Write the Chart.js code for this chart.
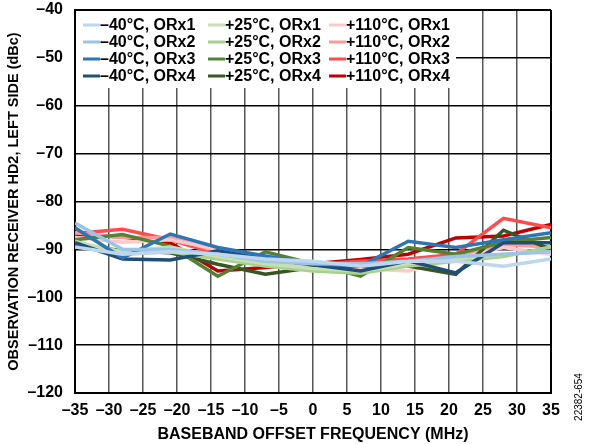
<!DOCTYPE html>
<html lang="en">
  <head>
    <meta charset="UTF-8" />
    <title>Observation Receiver HD2, Left Side</title>
    <script src="https://cdn.jsdelivr.net/npm/chart.js"></script>
    <style>
      body {
        margin: 0;
        background: #fff;
      }
      #chart-container {
        width: 590px;
        height: 444px;
      }
    </style>
  </head>
  <body>
    <div id="chart-container">
      <canvas id="my-chart" width="590" height="444"></canvas>
    </div>

    <script>
      // Offset frequencies (MHz)
      const freqs = [-35, -28, -21, -14, -7, 0, 7, 14, 21, 28, 35];

      // HD2 values (dBc)
      const m40orx1 = [-89.5, -91, -90.5, -91, -92, -92.5, -93.5, -92.5, -92.5, -93.5, -92];
      const m40orx2 = [-84.5, -90, -90, -91, -92.5, -93, -93, -92.5, -91.5, -91, -90.5];
      const m40orx3 = [-85.5, -91.8, -86.8, -89.6, -91.4, -93, -93.5, -88.3, -89.6, -88, -86.5];
      const m40orx4 = [-88.6, -92, -92.2, -90.3, -92, -93.2, -94.5, -92.4, -94.9, -88.6, -88.6];
      const p25orx1 = [-88.5, -90.5, -89.5, -91.5, -93, -94, -94.5, -93, -92, -91, -90.5];
      const p25orx2 = [-88.3, -91, -90.5, -92, -93.5, -94.5, -95, -93.5, -92.5, -91.5, -89.5];
      const p25orx3 = [-88, -86.9, -89.3, -95.6, -90.5, -93, -95.6, -89.6, -91, -88.5, -87.5];
      const p25orx4 = [-89, -90.3, -90.7, -93.1, -95.2, -93.8, -93.5, -93.5, -95.2, -86, -90];
      const p110orx1 = [-87.5, -88.5, -88, -90, -92.5, -93.5, -94, -94.5, -92, -89.6, -91];
      const p110orx2 = [-86.5, -87.5, -87.5, -90.5, -92.5, -93.5, -93, -93, -91.5, -89, -89.5];
      const p110orx3 = [-86.7, -85.8, -88, -91, -93, -93.2, -92.5, -92, -91, -83.5, -85.5];
      const p110orx4 = [-86.9, -87.4, -88.6, -94.5, -93.8, -93, -92.1, -91, -87.6, -87.2, -84.8];

      const labels = [
        "\u201340°C, ORx1", "\u201340°C, ORx2", "\u201340°C, ORx3", "\u201340°C, ORx4",
        "+25°C, ORx1", "+25°C, ORx2", "+25°C, ORx3", "+25°C, ORx4",
        "+110°C, ORx1", "+110°C, ORx2", "+110°C, ORx3", "+110°C, ORx4",
      ];
      const series = [
        m40orx1, m40orx2, m40orx3, m40orx4,
        p25orx1, p25orx2, p25orx3, p25orx4,
        p110orx1, p110orx2, p110orx3, p110orx4,
      ];
      const colors = [
        "#bdd7ee", "#9dc3e6", "#2e75b6", "#1f4e79",
        "#c5e0b4", "#a9d18e", "#548235", "#375623",
        "#ffc9c9", "#ff9999", "#ff4b4b", "#c00000",
      ];

      const FONT = "'Liberation Sans', Arial, sans-serif";

      function dash(v) {
        return v < 0 ? "\u2013" + Math.abs(v) : String(v);
      }

      function isEdge(c) {
        return c.tick && (c.tick.value === 35 || c.tick.value === -35);
      }

      // legend drawn inside the plot, 3 columns x 4 rows
      const insideLegend = {
        id: "insideLegend",
        afterDatasetsDraw(chart) {
          const ctx = chart.ctx;
          const area = chart.chartArea;
          ctx.save();
          ctx.fillStyle = "#fff";
          ctx.fillRect(area.left + 1, area.top + 1, 380, 88 - area.top - 1);
          ctx.font = "bold 16px " + FONT;
          ctx.textBaseline = "middle";
          const colX = [83, 208, 329];
          const rowY = [25, 42, 59, 76];
          chart.data.datasets.forEach((ds, i) => {
            const c = Math.floor(i / 4);
            const r = i % 4;
            const x = colX[c];
            const y = rowY[r];
            ctx.strokeStyle = ds.borderColor;
            ctx.lineWidth = 3;
            ctx.beginPath();
            ctx.moveTo(x, y);
            ctx.lineTo(x + 17, y);
            ctx.stroke();
            ctx.fillStyle = "#000";
            ctx.fillText(ds.label, x + 17, y + 1);
          });
          ctx.restore();
        },
        afterDraw(chart) {
          const ctx = chart.ctx;
          ctx.save();
          ctx.font = "10px " + FONT;
          ctx.fillStyle = "#000";
          ctx.translate(579, 397);
          ctx.rotate(-Math.PI / 2);
          ctx.textAlign = "center";
          ctx.textBaseline = "middle";
          ctx.fillText("22382-654", 0, 0);
          ctx.restore();
        },
      };

      const ctx = document.getElementById("my-chart").getContext("2d");
      const myChart = new Chart(ctx, {
        type: "line",
        data: {
          datasets: series.map((vals, i) => ({
            label: labels[i],
            data: vals.map((v, j) => ({ x: freqs[j], y: v })),
            borderColor: colors[i],
            backgroundColor: colors[i],
            borderWidth: 3.5,
            pointRadius: 0,
            fill: false,
            tension: 0,
          })),
        },
        options: {
          responsive: false,
          animation: false,
          layout: { autoPadding: false, padding: { left: 0, right: 39, top: 10, bottom: 0 } },
          plugins: {
            legend: { display: false },
            tooltip: { enabled: false },
          },
          scales: {
            x: {
              type: "linear",
              min: -35,
              max: 35,
              afterFit: (scale) => {
                scale.height = 51;
              },
              ticks: {
                stepSize: 5,
                color: "#000",
                font: { family: FONT, size: 16, weight: "bold" },
                padding: 8,
                maxRotation: 0,
                callback: (v) => dash(v),
              },
              grid: {
                drawTicks: false,
                color: (c) => (isEdge(c) ? "#000" : "#555"),
                lineWidth: (c) => (isEdge(c) ? 2 : 1.5),
              },
              border: { color: "#000", width: 2 },
              title: {
                display: true,
                text: "BASEBAND OFFSET FREQUENCY (MHz)",
                color: "#000",
                font: { family: FONT, size: 16, weight: "bold" },
                padding: { top: 0, bottom: 0 },
              },
            },
            y: {
              min: -120,
              max: -40,
              afterFit: (scale) => {
                scale.width = 75;
                // tick padding otherwise pushes the plot top down
                scale.paddingTop = 0;
                scale.paddingBottom = 0;
              },
              ticks: {
                stepSize: 10,
                color: "#000",
                font: { family: FONT, size: 16, weight: "bold" },
                padding: 12,
                callback: (v) => dash(v),
              },
              grid: {
                drawTicks: false,
                color: "#000",
                lineWidth: (c) => (c.tick && c.tick.value === -40 ? 2 : 1.5),
              },
              border: { color: "#000", width: 2 },
              title: {
                display: true,
                text: "OBSERVATION RECEIVER HD2, LEFT SIDE (dBc)",
                color: "#000",
                font: { family: FONT, size: 14.5, weight: "bold" },
                padding: { top: 5, bottom: 4 },
              },
            },
          },
        },
        plugins: [insideLegend],
      });
    </script>
  </body>
</html>
